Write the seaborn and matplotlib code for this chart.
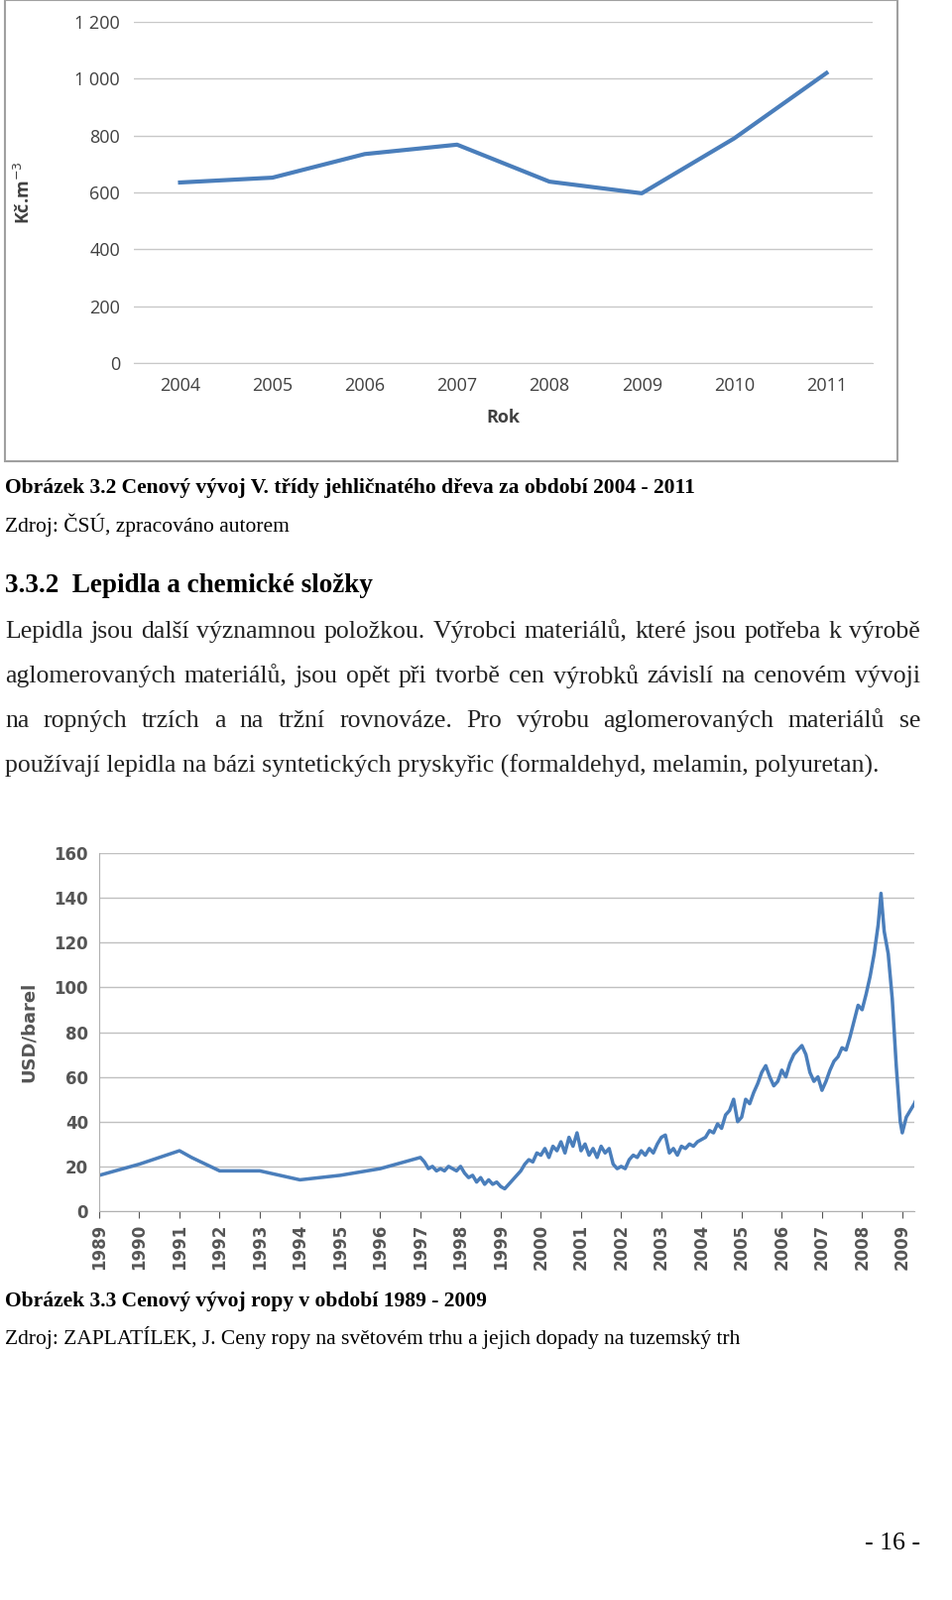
import matplotlib
matplotlib.use("Agg")
import matplotlib.pyplot as plt
import seaborn as sns
import pandas as pd
from matplotlib.patches import Rectangle

# ---- data chart 1 ----
wood_years = [2004, 2005, 2006, 2007, 2008, 2009, 2010, 2011]
wood_prices = [635, 652, 735, 768, 638, 597, 790, 1020]
wood_yticks = [0, 200, 400, 600, 800, 1000, 1200]
wood_yticklabels = ["0", "200", "400", "600", "800", "1 000", "1 200"]

# ---- data chart 2 ----
oil_t = [1989.0, 1990.0, 1991.0, 1991.3, 1992.0, 1993.0, 1994.0, 1995.0, 1996.0, 1997.0,
         1997.1, 1997.2, 1997.3, 1997.4, 1997.5, 1997.6, 1997.7, 1997.8, 1997.9,
         1998.0, 1998.1, 1998.2, 1998.3, 1998.4, 1998.5, 1998.6, 1998.7, 1998.8, 1998.9,
         1999.0, 1999.1, 1999.2, 1999.3, 1999.4, 1999.5, 1999.6, 1999.7, 1999.8, 1999.9,
         2000.0, 2000.1, 2000.2, 2000.3, 2000.4, 2000.5, 2000.6, 2000.7, 2000.8, 2000.9,
         2001.0, 2001.1, 2001.2, 2001.3, 2001.4, 2001.5, 2001.6, 2001.7, 2001.8, 2001.9,
         2002.0, 2002.1, 2002.2, 2002.3, 2002.4, 2002.5, 2002.6, 2002.7, 2002.8, 2002.9,
         2003.0, 2003.1, 2003.2, 2003.3, 2003.4, 2003.5, 2003.6, 2003.7, 2003.8, 2003.9,
         2004.0, 2004.1, 2004.2, 2004.3, 2004.4, 2004.5, 2004.6, 2004.7, 2004.8, 2004.9,
         2005.0, 2005.1, 2005.2, 2005.3, 2005.4, 2005.5, 2005.6, 2005.7, 2005.8, 2005.9,
         2006.0, 2006.1, 2006.2, 2006.3, 2006.4, 2006.5, 2006.6, 2006.7, 2006.8, 2006.9,
         2007.0, 2007.1, 2007.2, 2007.3, 2007.4, 2007.5, 2007.6, 2007.7, 2007.8, 2007.9,
         2008.0, 2008.1, 2008.2, 2008.3, 2008.4, 2008.47, 2008.55, 2008.65, 2008.75, 2008.85, 2008.95,
         2009.0, 2009.1, 2009.2, 2009.3, 2009.4]
oil_price = [16, 21, 27, 24, 18, 18, 14, 16, 19, 24,
             22, 19, 20, 18, 19, 18, 20, 19, 18,
             20, 17, 15, 16, 13, 15, 12, 14, 12, 13,
             11, 10, 12, 14, 16, 18, 21, 23, 22, 26,
             25, 28, 24, 29, 27, 31, 26, 33, 29, 35,
             27, 30, 25, 28, 24, 29, 26, 28, 21, 19,
             20, 19, 23, 25, 24, 27, 25, 28, 26, 30,
             33, 34, 26, 28, 25, 29, 28, 30, 29, 31,
             32, 33, 36, 35, 39, 37, 43, 45, 50, 40,
             42, 50, 48, 53, 57, 62, 65, 60, 56, 58,
             63, 60, 66, 70, 72, 74, 70, 62, 58, 60,
             54, 58, 63, 67, 69, 73, 72, 78, 85, 92,
             90, 97, 105, 115, 128, 142, 125, 115, 95, 65, 40,
             35, 42, 45, 48, 52]
oil_years = list(range(1989, 2010))
oil_yticks = [0, 20, 40, 60, 80, 100, 120, 140, 160]

BLUE = "#4a7ebb"
W, H = 960, 1613
fig = plt.figure(figsize=(9.6, 16.13), dpi=100)

def ax_rect(x0, y0, x1, y1):
    return [x0 / W, 1 - y1 / H, (x1 - x0) / W, (y1 - y0) / H]

# chart 1 frame
fig.patches.append(Rectangle((5 / W, 1 - 465 / H), 900 / W, 465 / H, transform=fig.transFigure,
                             fill=False, edgecolor="#a0a0a0", linewidth=1.5))
ax1 = fig.add_axes(ax_rect(135, 22, 880, 366))
df1 = pd.DataFrame({"Rok": wood_years, "v": wood_prices})
sns.lineplot(data=df1, x="Rok", y="v", ax=ax1, color=BLUE, linewidth=3)
ax1.set_xlim(2003.5, 2011.5)
ax1.set_ylim(0, 1200)
ax1.set_yticks(wood_yticks)
ax1.set_yticklabels(wood_yticklabels)
ax1.set_xticks(wood_years)
ax1.grid(axis="y", color="#c8c8c8", linewidth=1)
for s in ax1.spines.values():
    s.set_visible(False)
ax1.spines["bottom"].set_visible(True)
ax1.spines["bottom"].set_color("#c8c8c8")
ax1.tick_params(length=0, labelsize=13, colors="#404040", pad=10)
for lab in ax1.get_xticklabels() + ax1.get_yticklabels():
    lab.set_fontfamily("Open Sans")
ax1.set_xlabel("Rok", fontsize=13, fontweight="bold", fontfamily="Open Sans", color="#404040", labelpad=10)
ax1.set_ylabel("Kč.m$^{-3}$", fontsize=13, fontweight="bold", fontfamily="Open Sans", color="#404040", labelpad=30)

# text
serif = "Liberation Serif"
def t(y, s, size=14.5, weight="normal", family=serif, x=5, color="black"):
    fig.text(x / W, 1 - y / H, s, fontsize=size, fontweight=weight, fontfamily=family,
             va="center", ha="left", color=color)

t(492, "Obrázek 3.2 Cenový vývoj V. třídy jehličnatého dřeva za období 2004 - 2011", 15.5, "bold")
t(529, "Zdroj: ČSÚ, zpracováno autorem", 15.5)
t(591, "3.3.2  Lepidla a chemické složky", 19.5, "bold")
BODY = 18.5
body = ["Lepidla jsou další významnou položkou. Výrobci materiálů, které jsou potřeba k výrobě",
        "aglomerovaných materiálů, jsou opět při tvorbě cen výrobků závislí na cenovém vývoji",
        "na ropných trzích a na tržní rovnováze. Pro výrobu aglomerovaných materiálů se",
        "používají lepidla na bázi syntetických pryskyřic (formaldehyd, melamin, polyuretan)."]
r = fig.canvas.get_renderer()
for i, line in enumerate(body):
    y = 637 + i * 45
    if i < 3:
        words = line.split(" ")
        widths = []
        for w_ in words:
            tt = fig.text(0, 0, w_, fontsize=BODY, fontfamily=serif)
            widths.append(tt.get_window_extent(r).width)
            tt.remove()
        gap = (928 - 5 - sum(widths)) / (len(words) - 1)
        x = 5
        for w_, wd in zip(words, widths):
            fig.text(x / W, 1 - y / H, w_, fontsize=BODY, fontfamily=serif, va="center", ha="left",
                     color="#222222")
            x += wd + gap
    else:
        fig.text(5 / W, 1 - y / H, line, fontsize=BODY, fontfamily=serif, va="center", ha="left",
                 color="#222222")

t(1312, "Obrázek 3.3 Cenový vývoj ropy v období 1989 - 2009", 15.5, "bold")
t(1349, "Zdroj: ZAPLATÍLEK, J. Ceny ropy na světovém trhu a jejich dopady na tuzemský trh", 15.5)
fig.text(928 / W, 1 - 1556 / H, "- 16 -", fontsize=18.5, fontfamily=serif, va="center", ha="right")

# chart 2
ax2 = fig.add_axes(ax_rect(100, 860, 922, 1221))
df2 = pd.DataFrame({"t": oil_t, "p": oil_price})
sns.lineplot(data=df2, x="t", y="p", ax=ax2, color=BLUE, linewidth=2.5)
ax2.set_xlim(1989, 2009.3)
ax2.set_ylim(0, 160)
ax2.set_yticks(oil_yticks)
ax2.set_xticks(oil_years)
ax2.set_xticklabels([str(y) for y in oil_years], rotation=90, fontweight="bold")
ax2.grid(axis="y", color="#c0c0c0", linewidth=1)
for s in ["top", "right"]:
    ax2.spines[s].set_visible(False)
for s in ["left", "bottom"]:
    ax2.spines[s].set_color("#b0b0b0")
ax2.tick_params(axis="y", length=0, labelsize=12, colors="#555555", pad=8)
ax2.tick_params(axis="x", length=5, labelsize=12, colors="#555555", pad=4)
for lab in ax2.get_yticklabels():
    lab.set_fontweight("bold")
ax2.set_xlabel("")
ax2.set_ylabel("USD/barel", fontsize=13, fontweight="bold", color="#555555", labelpad=12)

fig.savefig("out.png", dpi=100)
